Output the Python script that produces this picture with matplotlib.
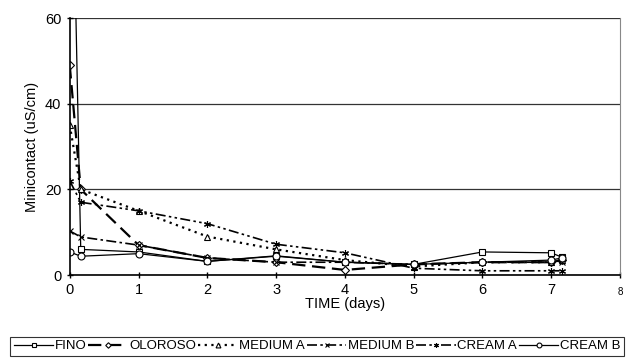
import matplotlib
matplotlib.use('Agg')
import matplotlib.pyplot as plt

plt.rcParams['font.family'] = ['Liberation Sans', 'DejaVu Sans']

# days sampled (second point is a few hours after the start)
days = [0, 0.16, 1, 2, 3, 4, 5, 6, 7, 7.15]

fino = [130, 6, 5.4, 3.2, 4.4, 3.0, 2.5, 5.4, 5.2, 4.2]
oloroso = [49, 20, 7, 4, 3, 1.2, 2.5, 3, 3, 3.5]
medium_a = [35, 20, 15, 9, 6, 3.5, 2, 3, 3, 3.5]
medium_b = [10.3, 8.9, 7, 4, 3, 3, 2.5, 3, 3, 3]
cream_a = [22, 17, 15, 12, 7.2, 5.2, 1.6, 1, 1, 1]
cream_b = [5.4, 4.4, 5, 3.2, 4.5, 3, 2.5, 3, 3.5, 4]

series = [
    ('FINO', fino, dict(ls='-', marker='s', lw=0.9)),
    ('OLOROSO', oloroso, dict(ls=(0, (6, 3)), marker='D', lw=1.6, ms=4)),
    ('MEDIUM A', medium_a, dict(ls=(0, (1, 2)), marker='^', lw=1.6)),
    ('MEDIUM B', medium_b, dict(ls=(0, (6, 2, 1.5, 2)), marker='x', lw=1.2)),
    ('CREAM A', cream_a, dict(ls=(0, (6, 2, 1.5, 2, 1.5, 2)), marker=(6, 2, 0), lw=1.2)),
    ('CREAM B', cream_b, dict(ls='-', marker='o', lw=0.9)),
]

fig = plt.figure(figsize=(6.34, 3.61), dpi=100)
ax = fig.add_axes([0.110, 0.238, 0.868, 0.712])

for name, vals, st in series:
    ax.plot(days, vals, color='black', label=name, mfc='white', mec='black',
            ms=st.pop('ms', 5), mew=0.8, **st)

ax.set_xlim(0, 8)
ax.set_ylim(0, 60)
ax.set_yticks([0, 20, 40, 60])
ax.set_xticks(range(9))
ax.set_xticklabels(['0', '1', '2', '3', '4', '5', '6', '7', ''])
ax.text(8, -2.8, '8', ha='center', va='top', fontsize=7)
ax.tick_params(labelsize=10.5, direction='inout', length=5, width=1)
ax.yaxis.grid(True, color='#333333', lw=0.9)
ax.set_axisbelow(True)

ax.spines['top'].set_visible(False)
ax.spines['right'].set_color('#888888')
ax.spines['left'].set_lw(1.2)
ax.spines['bottom'].set_lw(1.2)

ax.set_xlabel('TIME (days)', fontsize=10.5, labelpad=0)
ax.set_ylabel('Minicontact (uS/cm)', fontsize=10.5, labelpad=4)

leg = fig.legend(loc='lower center', bbox_to_anchor=(0.5, 0.015), ncol=6,
                 fontsize=9.5, frameon=True, fancybox=False, edgecolor='black',
                 handlelength=3.0, handletextpad=0.1, columnspacing=0.15,
                 borderpad=0.25, borderaxespad=0, markerscale=0.7)
leg.get_frame().set_linewidth(0.8)

fig.savefig('out.png', dpi=100)
